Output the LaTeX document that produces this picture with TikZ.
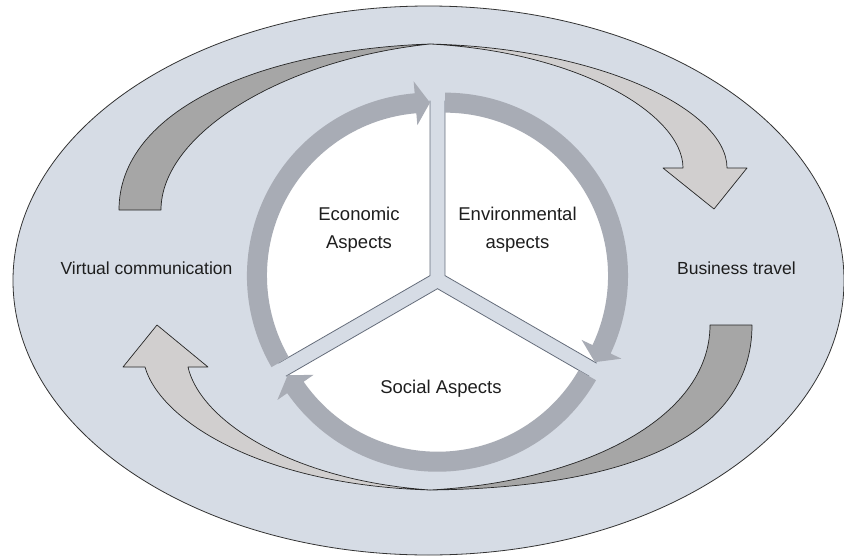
\documentclass[tikz,border=0pt]{standalone}
\usepackage{fontspec}
\setmainfont{Liberation Sans}
\usetikzlibrary{calc}
\definecolor{bgfill}{RGB}{214,220,229}
\definecolor{ringgray}{RGB}{168,172,181}
\definecolor{darkarrow}{RGB}{166,166,166}
\definecolor{lightarrow}{RGB}{209,207,207}
\definecolor{edgeline}{RGB}{100,108,122}
\definecolor{txt}{RGB}{30,30,30}
\newcommand\SegPie[3]{%
  \fill[white] (#1) -- ++(#2:173) arc[start angle=#2,end angle=#3,radius=173] -- cycle;
  \draw[pieedge] ($(#1)+(#2:175)$) -- (#1) -- ($(#1)+(#3:175)$);
}
\newcommand\SegArrow[3]{%
  \fill[ringgray] ($(#1)+(#2:183)$) arc[start angle=#2,end angle={#3-4.8},radius=183]
    -- ($(#1)+({#3-4.8}:195)$) -- ($(#1)+(#3:173)$) -- ($(#1)+({#3-4.8}:151)$)
    -- ($(#1)+({#3-4.8}:163)$) arc[start angle={#3-4.8},end angle=#2,radius=163] -- cycle;
}
\begin{document}
\begin{tikzpicture}[x=1pt,y=-1pt,
  outline/.style={draw=black!85,line width=0.7pt,line join=round},
  pieedge/.style={draw=edgeline,line width=0.8pt},
  outerlabel/.style={font=\fontsize{17.5}{21}\selectfont,text=txt,inner sep=0pt,anchor=base},
  innerlabel/.style={font=\fontsize{18.5}{28}\selectfont,text=txt,align=center,inner sep=0pt}]
\useasboundingbox (0,0) rectangle (844,557);
\fill[white] (0,0) rectangle (844,557);
\draw[fill=bgfill,draw=black!80,line width=0.8pt] (428.5,280.5) ellipse [x radius=415.5,y radius=274.5];

% big twisted arrows
\path[outline,fill=darkarrow] (119,210) .. controls (119,110) and (260,50) .. (430,44)
  .. controls (280,60) and (161,135) .. (161,210) -- cycle;
\path[outline,fill=lightarrow] (430,44) .. controls (600,48) and (727,110) .. (727,168)
  -- (747,168) -- (714,209) -- (663,168) -- (683,168)
  .. controls (683,115) and (580,52) .. (430,44) -- cycle;
\path[outline,fill=darkarrow] (752,325) .. controls (752,440) and (620,488) .. (430,490)
  .. controls (580,482) and (710,420) .. (710,325) -- cycle;
\path[outline,fill=lightarrow] (430,490) .. controls (260,485) and (160,420) .. (145,367)
  -- (123,367) -- (157,325) -- (208,367) -- (188,367)
  .. controls (200,420) and (290,480) .. (430,490) -- cycle;

% segmented cycle
\coordinate (E) at (429.97,275.65);
\coordinate (N) at (445.03,275.65);
\coordinate (S) at (437.5,288.7);
\SegPie{E}{150}{270}
\SegPie{N}{270}{390}
\SegPie{S}{30}{150}
\SegArrow{E}{150}{270}
\SegArrow{N}{270}{390}
\SegArrow{S}{30}{150}

% labels
\node[outerlabel] (vc) at (146.5,274) {Virtual communication};
\node[outerlabel] (bt) at (736.5,274) {Business travel};
\node[innerlabel] (econ) at (359,229.3) {Economic\\Aspects};
\node[innerlabel] (envi) at (517.5,229.3) {Environmental\\aspects};
\node[innerlabel] (soc) at (441,388.3) {Social Aspects};
\end{tikzpicture}
\end{document}
